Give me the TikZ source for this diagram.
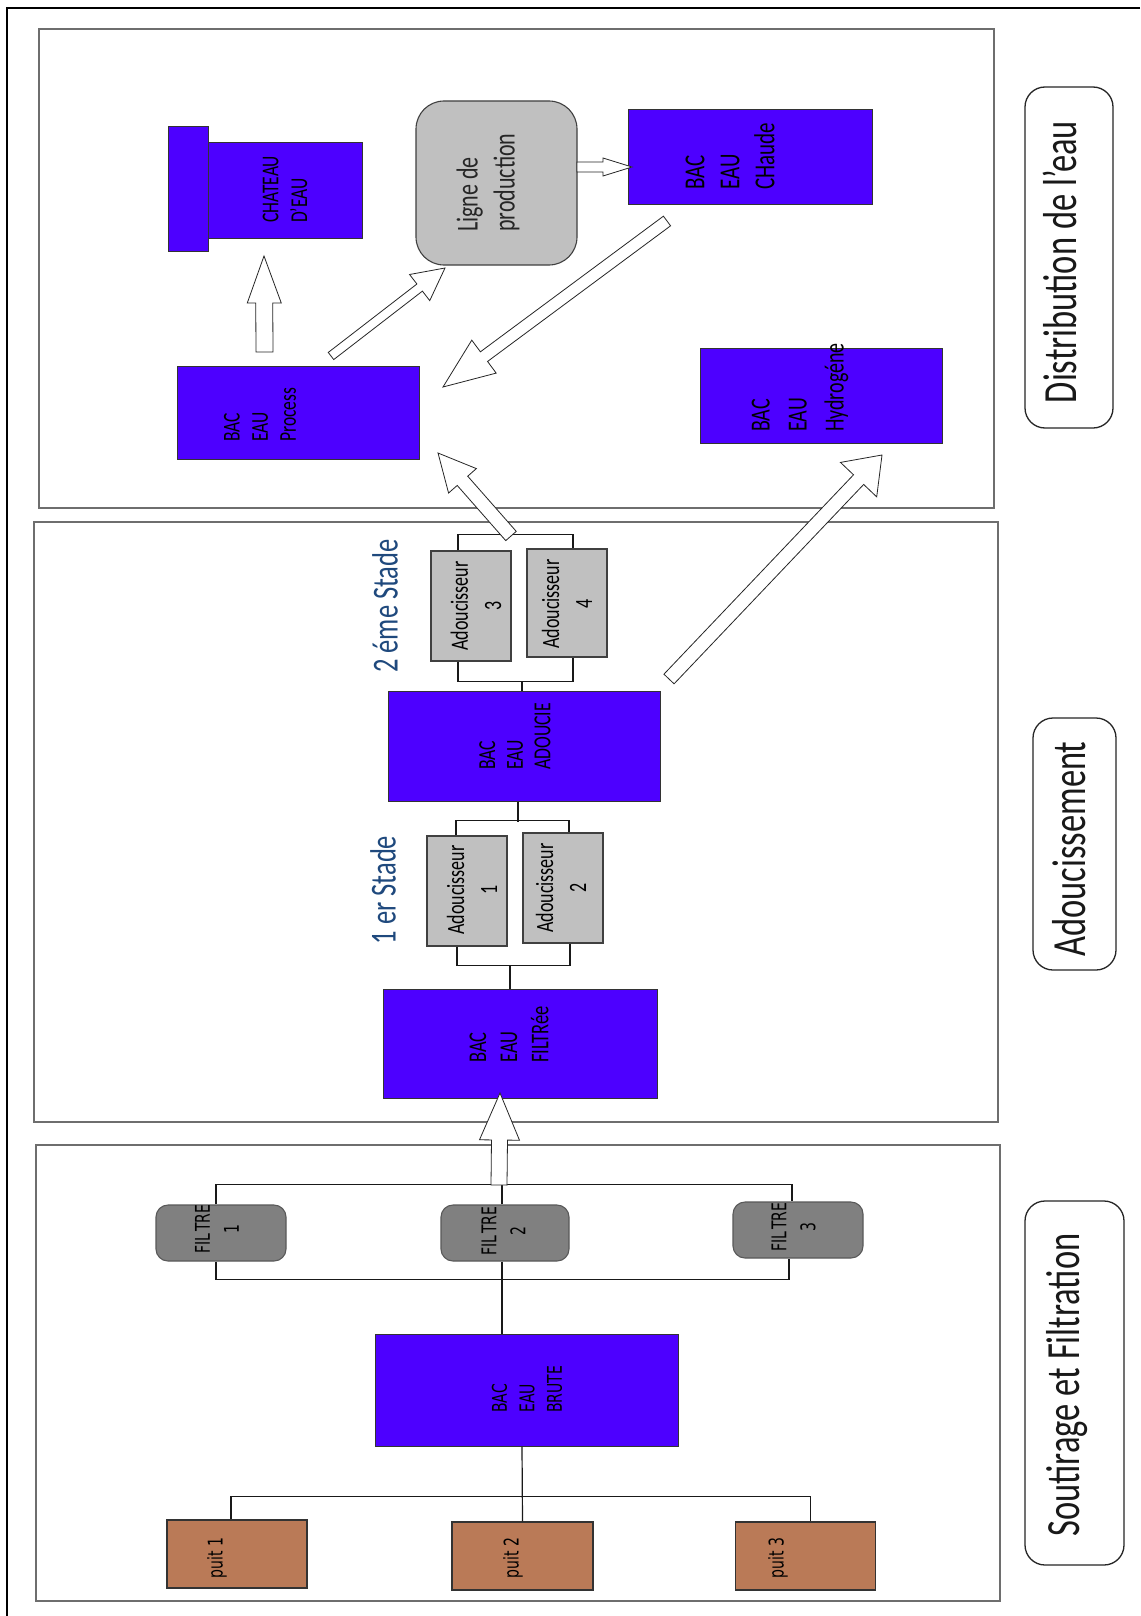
\documentclass[tikz,border=0pt]{standalone}
\usepackage{fontspec}
\setmainfont{Carlito}
\newfontfamily\dejavu{DejaVu Sans}
\usetikzlibrary{calc}
\definecolor{bacblue}{HTML}{4D00FF}
\definecolor{puitbrown}{HTML}{BA7A57}
\definecolor{lightgr}{HTML}{C0C0C0}
\definecolor{midgr}{HTML}{808080}
\definecolor{panelgr}{HTML}{6E6E6E}
\definecolor{stadeblue}{HTML}{1F497D}
\tikzset{
  panel/.style={draw=panelgr, line width=1.6pt},
  bluebox/.style={draw=black!80, line width=1pt, fill=bacblue, inner sep=0pt},
  graybox/.style={draw=black!75, line width=1.1pt, fill=lightgr, inner sep=0pt},
  filtrebox/.style={draw=black!65, line width=1.1pt, fill=midgr, inner sep=0pt, rounded corners=12pt},
  puitbox/.style={draw=black!80, line width=1.1pt, fill=puitbrown, inner sep=0pt},
  pill/.style={draw=black!85, line width=1.3pt, rounded corners=20pt, inner sep=0pt},
  conn/.style={draw=black!90, line width=1.2pt},
  barrow/.style={draw=black!85, line width=0.8pt, fill=white, line join=miter},
  vt/.style={rotate=90, yscale=1.38, inner sep=0pt, align=left, anchor=west},
  vtc/.style={rotate=90, yscale=1.38, inner sep=0pt, align=center, anchor=center},
  vtd/.style={rotate=90, yscale=1.45, inner sep=0pt, align=left, anchor=west},
  vtdc/.style={rotate=90, yscale=1.45, inner sep=0pt, align=center, anchor=center},
}
\newcommand\blockarr[5]{%
  \path let \p1=(#1), \p2=(#2) in \pgfextra{%
    \pgfmathsetmacro\baA{atan2(\y2-\y1,\x2-\x1)}%
    \pgfmathsetmacro\baL{veclen(\x2-\x1,\y2-\y1)}%
    \xdef\baAng{\baA}\xdef\baLen{\baL}};
  \begin{scope}[shift={(#1)}, rotate=\baAng]
    \draw[barrow] (0,-#3) -- (\baLen-#5,-#3) -- (\baLen-#5,-#4) -- (\baLen,0)
      -- (\baLen-#5,#4) -- (\baLen-#5,#3) -- (0,#3) -- cycle;
  \end{scope}}
\begin{document}
\begin{tikzpicture}[x=1pt,y=-1pt]
\useasboundingbox (0,0) rectangle (1140,1616);
\fill[white] (0,0) rectangle (1140,1616);
\draw[line width=2.5pt] (1140,8) -- (7,8) -- (7,1616);

% panels
\draw[panel] (39,29) rectangle (994,508);
\draw[panel] (34,522) rectangle (998,1122);
\draw[panel] (36,1145) rectangle (1000,1601);

% pills
\node[pill, minimum width=88pt, minimum height=341pt] (pdist) at (1069,257.5) {};
\node[vtc, font={\fontsize{34.5}{40}\selectfont}, text=black!90] (tdist) at (1060,262) {Distribution de l'eau};
\node[pill, minimum width=83pt, minimum height=252pt] (pado) at (1074.5,844) {};
\node[vtc, font={\fontsize{34.5}{40}\selectfont}, text=black!90] (tado) at (1069,849) {Adoucissement};
\node[pill, minimum width=99pt, minimum height=364pt] (psout) at (1074.5,1383) {};
\node[vtc, font={\fontsize{34.5}{40}\selectfont}, text=black!90] (tsout) at (1067,1385) {Soutirage et Filtration};

% ===== Distribution panel =====
\node[bluebox, minimum width=40pt, minimum height=124pt] (chtab) at (188,189) {};
\node[bluebox, minimum width=154pt, minimum height=95pt] (chmain) at (285,190.5) {};
\node[vt, font={\fontsize{17.5}{21}\selectfont}] (tchat) at (285,223) {CHATEAU\\D'EAU};

\node[bluebox, minimum width=242pt, minimum height=93pt] (process) at (298,412.5) {};
\node[vt, font={\fontsize{17.5}{20.3}\selectfont}] (tproc) at (260,442) {BAC\\EAU\\Process};

\node[graybox, rounded corners=28pt, minimum width=161pt, minimum height=164pt] (ligne) at (496.5,183) {};
\node[vt, font={\fontsize{22}{26.8}\selectfont}, text=black!85] (tligne) at (488,232) {Ligne de\\production};

\node[bluebox, minimum width=244pt, minimum height=95pt] (chaude) at (750,157.5) {};
\node[vt, font={\fontsize{21}{25.4}\selectfont}] (tchaude) at (730,190) {BAC\\EAU\\CHaude};

\node[bluebox, minimum width=242pt, minimum height=95pt] (hydro) at (821,395.5) {};
\node[vt, font={\fontsize{20}{26.8}\selectfont}] (thydro) at (800,432) {BAC\\EAU\\Hydrogéne};

% ===== Adoucissement panel =====
\node[graybox, minimum width=80pt, minimum height=110pt] (A3) at (471,606) {};
\node[graybox, minimum width=80pt, minimum height=108pt] (A4) at (567,603) {};
\node[vtc, font={\fontsize{18}{24}\selectfont}] (tA3) at (476,606) {Adoucisseur\\3};
\node[vtc, font={\fontsize{18}{24}\selectfont}] (tA4) at (567,604) {Adoucisseur\\4};

\node[bluebox, minimum width=272pt, minimum height=110pt] (adoucie) at (524,746) {};
\node[vt, font={\fontsize{17.7}{20}\selectfont}] (tadoucie) at (515,770) {BAC\\EAU\\ADOUCIE};

\node[graybox, minimum width=80pt, minimum height=110pt] (A1) at (467,891) {};
\node[graybox, minimum width=80pt, minimum height=110pt] (A2) at (563,888) {};
\node[vtc, font={\fontsize{18}{24}\selectfont}] (tA1) at (472,890) {Adoucisseur\\1};
\node[vtc, font={\fontsize{18}{24}\selectfont}] (tA2) at (561,888) {Adoucisseur\\2};

\node[bluebox, minimum width=274pt, minimum height=109pt] (filtree) at (520,1043.5) {};
\node[vt, font={\fontsize{18.5}{22.5}\selectfont}] (tfiltree) at (509,1063) {BAC\\EAU\\FILTRée};

\node[vtc, font={\fontsize{26.5}{30}\selectfont}, text=stadeblue] (stade2) at (385,606) {2 éme Stade};
\node[vtc, font={\fontsize{26.5}{30}\selectfont}, text=stadeblue] (stade1) at (383,890) {1 er Stade};

% ===== Soutirage panel =====
\node[filtrebox, minimum width=130pt, minimum height=56pt] (F1) at (221,1233) {};
\node[filtrebox, minimum width=128pt, minimum height=56pt] (F2) at (505,1233) {};
\node[filtrebox, minimum width=130pt, minimum height=56pt] (F3) at (798,1230) {};
\node[vtdc, font={\dejavu\fontsize{14}{20}\selectfont}] (tF1) at (217,1229) {FIL\kern2pt TRE\\1};
\node[vtdc, font={\dejavu\fontsize{14}{20}\selectfont}] (tF2) at (503.5,1231) {FIL\kern2pt TRE\\2};
\node[vtdc, font={\dejavu\fontsize{14}{20}\selectfont}] (tF3) at (793.5,1227) {FIL\kern2pt TRE\\3};

\node[bluebox, minimum width=303pt, minimum height=112pt] (brute) at (526.5,1390) {};
\node[vtd, font={\dejavu\fontsize{14}{19}\selectfont}] (tbrute) at (527,1413) {BAC\\EAU\\BRUTE};

\node[puitbox, minimum width=140pt, minimum height=68pt] (P1) at (237,1554) {};
\node[puitbox, minimum width=141pt, minimum height=68pt] (P2) at (522.5,1556) {};
\node[puitbox, minimum width=140pt, minimum height=68pt] (P3) at (805.75,1556) {};
\node[vtdc, font={\dejavu\fontsize{14}{18}\selectfont}] (tP1) at (217,1558) {puit 1};
\node[vtdc, font={\dejavu\fontsize{14}{18}\selectfont}] (tP2) at (513,1558) {puit 2};
\node[vtdc, font={\dejavu\fontsize{14}{18}\selectfont}] (tP3) at (778,1558) {puit 3};

% ===== connectors =====
\draw[conn] ([xshift=-13pt]A3.south) -- ++(0,20) -| ([xshift=6pt]A4.south);
\draw[conn] ([xshift=-2pt]adoucie.north) -- ++(0,-10);
\draw[conn] ([xshift=-13pt]A3.north) -- ++(0,-16) -| ([xshift=6pt]A4.north);
\draw[conn] ([xshift=-11pt]A1.north) -- ++(0,-15) -| ([xshift=6pt]A2.north);
\draw[conn] ([xshift=-6pt]adoucie.south) -- ++(0,20);
\draw[conn] ([xshift=-10pt]A1.south) -- ++(0,19) -| ([xshift=7pt]A2.south);
\draw[conn] ([xshift=-10pt]filtree.north) -- ++(0,-24);

\draw[conn] ([xshift=-3pt]F2.south) -- ([xshift=-3pt]F2.south |- brute.north);
\draw[conn] ([xshift=-5pt]F1.south) -- ++(0,18) -| ([xshift=-9pt]F3.south);
\draw[conn] ([xshift=-5pt]F1.north) -- ++(0,-20) -| ([xshift=-6pt]F3.north);
\draw[conn] ([xshift=-3pt]F2.north) -- ++(0,-20);
\draw[conn] ([xshift=-4.5pt]brute.south) -- (P2.north);
\draw[conn] ([xshift=-6pt]P1.north) -- ++(0,-23) -| ([xshift=5pt]P3.north);

% ===== block arrows =====
\coordinate (a1s) at (264.5,352); \coordinate (a1e) at (264,256);
\coordinate (a2s) at (331,356);   \coordinate (a2e) at (445,268);
\coordinate (a3s) at (667,221);   \coordinate (a3e) at (443,387);
\coordinate (a4s) at (577,167);   \coordinate (a4e) at (632,167);
\coordinate (a5s) at (511,536);   \coordinate (a5e) at (438,453);
\coordinate (a6s) at (669,679);   \coordinate (a6e) at (882,455);
\coordinate (a7s) at (499,1185);  \coordinate (a7e) at (500,1093);
\blockarr{a1s}{a1e}{8.5}{17}{47}
\blockarr{a2s}{a2e}{4.5}{16.5}{32}
\blockarr{a3s}{a3e}{6}{20.5}{51}
\blockarr{a4s}{a4e}{5}{9}{29}
\blockarr{a5s}{a5e}{7}{18.5}{37}
\blockarr{a6s}{a6e}{7}{25}{34}
\blockarr{a7s}{a7e}{8}{20}{47}
\end{tikzpicture}
\end{document}
